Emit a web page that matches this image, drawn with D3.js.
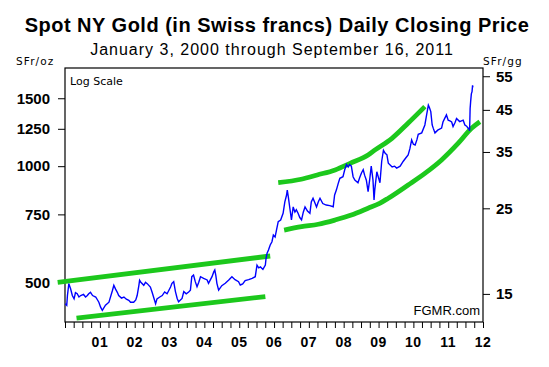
<!DOCTYPE html>
<html>
<head>
<meta charset="utf-8">
<script src="https://cdn.jsdelivr.net/npm/d3@7"></script>
<style>
  html, body { margin: 0; padding: 0; background: #fff; }
  svg { display: block; }
</style>
</head>
<body>
<svg id="chart" width="549" height="367"></svg>
<script>
// ---------- DATA ----------
const titleText = "Spot NY Gold (in Swiss francs) Daily Closing Price";
const subtitleText = "January 3, 2000 through September 16, 2011";
const leftTicks = [500, 750, 1000, 1250, 1500];
const rightTicks = [15, 25, 35, 45, 55];
const yearLabels = ["01","02","03","04","05","06","07","08","09","10","11","12"];
const gramsPerOunce = 31.1035;

// decimal year, SFr/oz
const goldDates = [
  2000.01,2000.05,2000.07,2000.11,2000.16,2000.21,2000.26,2000.30,2000.35,2000.40,2000.45,2000.53,2000.59,2000.64,2000.68,2000.73,2000.79,2000.88,2000.97,
  2001.02,2001.07,2001.16,2001.26,2001.36,2001.40,2001.45,2001.50,2001.54,2001.62,2001.69,2001.76,2001.83,2001.88,2001.97,
  2002.03,2002.07,2002.12,2002.14,2002.17,2002.26,2002.31,2002.36,2002.45,2002.50,2002.60,2002.64,2002.72,2002.79,2002.86,2002.93,
  2003.03,2003.07,2003.12,2003.17,2003.22,2003.26,2003.36,2003.41,2003.48,2003.55,2003.60,2003.64,2003.69,2003.74,2003.79,2003.84,2003.89,2003.98,
  2004.08,2004.12,2004.22,2004.27,2004.30,2004.33,2004.36,2004.41,2004.50,2004.60,2004.70,2004.79,2004.88,2004.98,
  2005.03,2005.10,2005.17,2005.27,2005.37,2005.46,2005.51,2005.56,2005.61,2005.68,2005.75,2005.77,2005.80,2005.84,2005.89,2005.94,2005.98,
  2006.03,2006.07,2006.12,2006.19,2006.26,2006.31,2006.36,2006.38,2006.41,2006.46,2006.50,2006.55,2006.60,2006.64,2006.69,2006.74,2006.79,2006.84,2006.89,2006.96,
  2007.03,2007.07,2007.12,2007.17,2007.22,2007.27,2007.32,2007.40,2007.50,2007.60,2007.70,2007.74,2007.79,2007.84,2007.89,2007.98,
  2008.03,2008.08,2008.13,2008.17,2008.22,2008.27,2008.32,2008.41,2008.46,2008.51,2008.56,2008.60,2008.65,2008.70,2008.75,2008.79,2008.84,2008.87,2008.89,2008.95,2008.99,
  2009.04,2009.09,2009.14,2009.19,2009.24,2009.28,2009.39,2009.46,2009.52,2009.62,2009.71,2009.78,2009.85,2009.90,2009.95,
  2010.00,2010.05,2010.10,2010.14,2010.24,2010.33,2010.38,2010.43,2010.46,2010.50,2010.54,2010.57,2010.62,2010.70,2010.81,2010.85,2010.90,2010.95,
  2011.00,2011.05,2011.10,2011.14,2011.20,2011.24,2011.33,2011.43,2011.48,2011.53,2011.57,2011.60,2011.615,2011.63,2011.645,2011.665,2011.685,2011.70,2011.71
];
const goldPrices = [
  440,436,462,496,481,462,453,470,467,458,462,465,458,462,467,471,462,458,444,
  431,423,436,444,476,491,480,471,462,455,458,452,449,444,444,
  450,462,491,506,501,491,500,496,486,471,440,453,458,462,472,467,
  486,497,502,473,454,445,454,473,467,472,477,517,522,502,487,500,517,512,
  507,497,517,532,538,520,497,477,490,497,507,517,508,502,
  492,495,505,508,512,517,554,545,548,540,554,577,595,606,625,637,663,
  655,683,718,725,755,808,842,867,833,771,726,784,760,771,755,736,726,760,784,765,
  755,808,826,805,784,808,826,800,793,790,785,842,867,900,930,939,
  979,1010,995,1010,1000,939,920,906,935,960,979,948,920,859,930,1000,920,818,867,967,939,
  906,1030,1100,1080,1070,1018,995,1000,989,1000,1030,1050,1070,1110,1170,
  1140,1135,1170,1210,1220,1279,1358,1440,1420,1385,1279,1255,1220,1240,1255,1302,1330,1358,
  1316,1310,1302,1267,1300,1330,1305,1316,1279,1270,1255,1250,1235,1410,1470,1540,1560,1620,1600
];

// trend channels (decimal year, SFr/oz)
const channel1UpperDates = [1999.79, 2005.89];
const channel1UpperPrices = [500, 585];
const channel1LowerDates = [2000.33, 2005.75];
const channel1LowerPrices = [404, 459];
const channel2UpperDates = [2006.12, 2006.78, 2007.24, 2007.755, 2008.185, 2008.70, 2008.90, 2009.385, 2009.845, 2010.33];
const channel2UpperPrices = [906, 925, 949, 978, 1017, 1069, 1102, 1181, 1292, 1427];
const channel2LowerDates = [2006.29, 2006.79, 2007.27, 2007.75, 2008.22, 2008.70, 2009.03, 2009.28, 2009.85, 2010.33, 2010.81, 2011.29, 2011.67, 2011.91];
const channel2LowerPrices = [683, 697, 707, 725, 747, 778, 801, 826, 894, 958, 1038, 1147, 1254, 1304];

// ---------- HELPERS ----------
function dy(t) {
  const y = Math.floor(t);
  const s = Date.UTC(y, 0, 1), e = Date.UTC(y + 1, 0, 1);
  return new Date(s + (t - y) * (e - s));
}
const zip = (ds, vs) => ds.map((d, i) => ({ date: dy(d), value: vs[i] }));

// ---------- LAYOUT ----------
const svg = d3.select("#chart");
const L = 65, R = 483, T = 68, B = 322;

const x = d3.scaleUtc()
  .domain([new Date(Date.UTC(2000, 0, 1)), new Date(Date.UTC(2012, 0, 1))])
  .range([L, R]);
const y = d3.scaleLog().domain([394.5, 1797]).range([B, T]);
const y2 = d3.scaleLog().domain([394.5 / gramsPerOunce, 1797 / gramsPerOunce]).range([B, T]);

const FONT = "'Liberation Sans', Arial, sans-serif";
const VFONT = "'DejaVu Sans', Verdana, sans-serif";

// titles
svg.append("text").attr("x", 277).attr("y", 32).attr("text-anchor", "middle")
  .style("font-family", FONT).style("font-weight", "bold").style("font-size", "20px")
  .style("letter-spacing", "0.5px")
  .text(titleText);
svg.append("text").attr("x", 272).attr("y", 55).attr("text-anchor", "middle")
  .style("font-family", FONT).style("font-size", "16px").style("letter-spacing", "1px")
  .text(subtitleText);
svg.append("text").attr("x", 16).attr("y", 65)
  .style("font-family", VFONT).style("font-size", "10.5px").style("letter-spacing", "1.1px")
  .text("SFr/oz");
svg.append("text").attr("x", 483).attr("y", 65)
  .style("font-family", VFONT).style("font-size", "10.5px").style("letter-spacing", "1.1px")
  .text("SFr/gg");

// left axis
const gl = svg.append("g").attr("transform", `translate(${L},0)`)
  .call(d3.axisLeft(y).tickValues(leftTicks).tickFormat(d3.format("d")).tickSize(7).tickPadding(8));
gl.select(".domain").remove();
gl.selectAll("text").style("font-family", FONT).style("font-weight", "bold").style("font-size", "15px").attr("fill", "#000");

// right axis
const gr = svg.append("g").attr("transform", `translate(${R},0)`)
  .call(d3.axisRight(y2).tickValues(rightTicks).tickFormat(d3.format("d")).tickSize(7).tickPadding(6));
gr.select(".domain").remove();
gr.selectAll("text").style("font-family", FONT).style("font-weight", "bold").style("font-size", "15px").attr("fill", "#000");

// bottom axis: quarterly ticks
const gb = svg.append("g").attr("transform", `translate(0,${B})`)
  .call(d3.axisBottom(x).ticks(d3.utcMonth.every(3)).tickFormat("").tickSize(6));
gb.select(".domain").remove();
const yearDates = yearLabels.map((s, i) => new Date(Date.UTC(2001 + i, 0, 1)));
svg.append("g").selectAll("text").data(yearDates).join("text")
  .attr("x", d => x(d)).attr("y", 347).attr("text-anchor", "middle")
  .style("font-family", FONT).style("font-weight", "bold").style("font-size", "14px")
  .style("letter-spacing", "0.5px")
  .text((d, i) => yearLabels[i]);

// frame
svg.append("rect").attr("x", L).attr("y", T).attr("width", R - L).attr("height", B - T)
  .attr("fill", "none").attr("stroke", "#000").attr("stroke-width", 1.2);

// inner labels
svg.append("text").attr("x", 70).attr("y", 85)
  .style("font-family", VFONT).style("font-size", "11px").text("Log Scale");
svg.append("text").attr("x", 480).attr("y", 315).attr("text-anchor", "end")
  .style("font-family", FONT).style("font-size", "13px").text("FGMR.com");

// lines
const line = d3.line().x(d => x(d.date)).y(d => y(d.value));
const curve = d3.line().x(d => x(d.date)).y(d => y(d.value)).curve(d3.curveMonotoneX);

const green = "#1cc81c";
[[channel1UpperDates, channel1UpperPrices], [channel1LowerDates, channel1LowerPrices],
 [channel2UpperDates, channel2UpperPrices], [channel2LowerDates, channel2LowerPrices]]
  .forEach(([ds, vs]) => {
    svg.append("path").datum(zip(ds, vs)).attr("d", curve)
      .attr("fill", "none").attr("stroke", green).attr("stroke-width", 4.8);
  });

svg.append("path").datum(zip(goldDates, goldPrices)).attr("d", line)
  .attr("fill", "none").attr("stroke", "#0000ff").attr("stroke-width", 1.4)
  .attr("stroke-linejoin", "miter");
</script>
</body>
</html>
